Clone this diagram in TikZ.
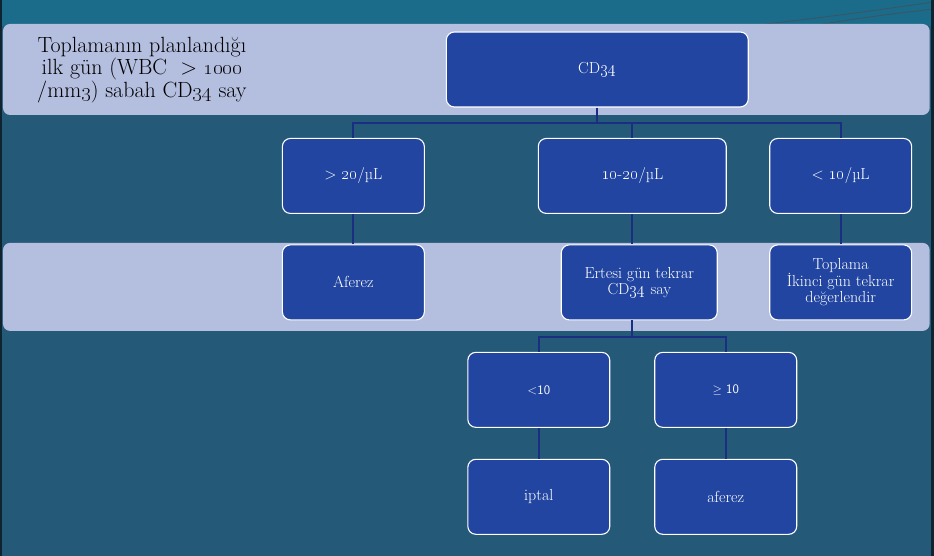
\documentclass[tikz,border=0pt]{standalone}
\usepackage{tikz}
\usetikzlibrary{positioning}
\definecolor{bgteal}{HTML}{245A78}
\definecolor{topteal}{HTML}{1B6B8B}
\definecolor{bandblue}{HTML}{B4BEDF}
\definecolor{boxblue}{HTML}{2145A0}
\definecolor{wirenavy}{HTML}{1B2F82}
\newcommand{\osn}[1]{\oldstylenums{#1}}
\tikzset{
  band/.style={fill=bandblue, rounded corners=7pt},
  box/.style={draw=white, line width=1.1pt, fill=boxblue, rounded corners=8pt, text=white,
    font=\fontsize{16}{16}\selectfont, align=center, inner sep=2pt, minimum height=75pt},
  cdbox/.style={box, minimum width=302pt},
  midbox/.style={box, minimum width=142pt},
  widebox/.style={box, minimum width=188pt},
  ertbox/.style={box, minimum width=156pt},
  wire/.style={draw=wirenavy, line width=1.8pt},
  topline/.style={draw=black!70, line width=0.7pt, opacity=0.8}
}

\begin{document}
\begin{tikzpicture}[x=1pt,y=-1pt]
  % background and bands
  \fill[bgteal] (0,0) rectangle (934,556);
  \fill[topteal] (0,0) rectangle (934,26);
  \draw[topline] (750,26) .. controls (850,14) .. (934,2);
  \draw[topline] (810,26) .. controls (875,16) .. (934,9);
  \fill[black!60!bgteal] (0,0) rectangle (2,556);
  \fill[black!60!bgteal] (931,0) rectangle (934,556);
  \fill[band] (3,24) rectangle (930,115);
  \fill[band] (3,243) rectangle (930,331);

  \node[align=center, font=\fontsize{22}{20}\selectfont] (note) at (142,70)
    {Toplamanın planlandığı\\ilk gün (WBC\ \ > \osn{1000}\\/mm\osn{3}) sabah CD\osn{34} say};

  % boxes
  \node[cdbox] (cd) at (597.5,69.5) {CD\osn{34}};
  \node[midbox] (hi) at (353.5,176) {> \osn{20}/µL};
  \node[widebox] (mid) at (632.5,176) {\osn{10}-\osn{20}/µL};
  \node[midbox] (lo) at (841,176) {< \osn{10}/µL};
  \node[midbox] (af) at (353.5,282.5) {Aferez};
  \node[ertbox] (ert) at (639.5,282.5) {Ertesi gün tekrar\\CD\osn{34} say};
  \node[midbox] (top) at (841,282.5) {Toplama\\İkinci gün tekrar\\değerlendir};
  \node[midbox] (ltt) at (539,390) {\sffamily\fontsize{13}{15}\selectfont <10};
  \node[midbox] (get) at (726,390) {\fontsize{13}{15}\selectfont$\geq$ \textsf{10}};
  \node[midbox] (ipt) at (539,497) {iptal};
  \node[midbox] (afz) at (726,497) {aferez};

  % connectors
  \draw[wire] (cd.south) -- ++(0,16);
  \draw[wire] (hi.north) -- ++(0,-15) -| (lo.north);
  \draw[wire] (mid.north) -- ++(0,-15);
  \draw[wire] (hi.south) -- (af.north);
  \draw[wire] (mid.south) -- (mid.south |- ert.north);
  \draw[wire] (lo.south) -- (top.north);
  \draw[wire] (mid.south |- ert.south) -- ++(0,17);
  \draw[wire] (ltt.north) -- ++(0,-15) -| (get.north);
  \draw[wire] (ltt.south) -- (ipt.north);
  \draw[wire] (get.south) -- (afz.north);
\end{tikzpicture}
\end{document}
